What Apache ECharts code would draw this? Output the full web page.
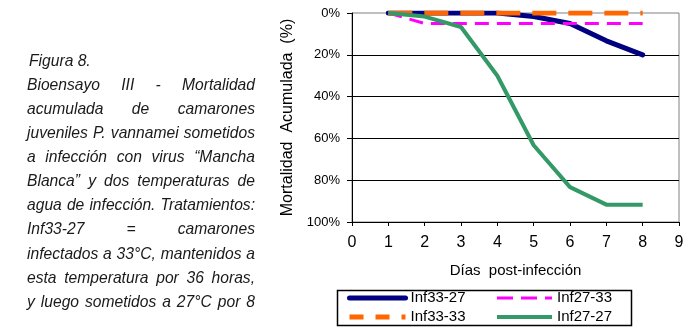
<!DOCTYPE html>
<html>
<head>
<meta charset="utf-8">
<script src="https://cdn.jsdelivr.net/npm/echarts@6/dist/echarts.min.js"></script>
<style>
  html, body { margin: 0; padding: 0; background: #fff; }
  #chart { width: 688px; height: 327px; }
</style>
</head>
<body>
<div id="chart"></div>
<script>
// Días post-infección
const days = [1, 2, 3, 4, 5, 6, 7, 8];
// Mortalidad acumulada (%) por tratamiento
const inf33_27 = [0, 0, 0, 0, 1.7, 5, 13.3, 20];
const inf27_33 = [0, 5, 5, 5, 5, 5, 5, 5];
const inf33_33 = [0, 0, 0, 0, 0, 0, 0, 0];
const inf27_27 = [0, 1.7, 6.7, 30, 63.3, 83.3, 91.7, 91.7];
const seriesNames = ['Inf33-27', 'Inf27-33', 'Inf33-33', 'Inf27-27'];
// Ejes
const xTicks = [0, 1, 2, 3, 4, 5, 6, 7, 8, 9];
const xTickLabels = ['0', '1', '2', '3', '4', '5', '6', '7', '8', '9'];
const yTicks = [0, 20, 40, 60, 80, 100];
const yTickLabels = ['0%', '20%', '40%', '60%', '80%', '100%'];
// Texto de la figura
const captionLines = [
  'Figura 8.',
  'Bioensayo III - Mortalidad',
  'acumulada de camarones',
  'juveniles P. vannamei sometidos',
  'a infección con virus “Mancha',
  'Blanca” y dos temperaturas de',
  'agua de infección. Tratamientos:',
  'Inf33-27 = camarones',
  'infectados a 33°C, mantenidos a',
  'esta temperatura por 36 horas,',
  'y luego sometidos a 27°C por 8'
];

const FONT = '"Liberation Sans", Arial, sans-serif';
const chart = echarts.init(document.getElementById('chart'), null, { renderer: 'canvas' });

// Justified caption: each word is a text element, gaps stretched to fill the column
const measureCtx = document.createElement('canvas').getContext('2d');
const capFontSize = 17;
const capFont = 'italic ' + capFontSize + 'px "Liberation Sans"';
measureCtx.font = capFont;
const colLeft = 27, colWidth = 228, lineTop = 61, lineStep = 24.1;
const captionEls = [];
captionLines.forEach((line, i) => {
  const words = line.split(' ');
  const widths = words.map(w => measureCtx.measureText(w).width);
  const sp = measureCtx.measureText(' ').width;
  const nat = widths.reduce((a, b) => a + b, 0);
  let s = 0.92;
  let gap = sp * s;
  const justify = i > 0 && words.length > 1;
  if (justify) {
    if ((nat + sp * (words.length - 1)) * s > colWidth) {
      s = colWidth / (nat + sp * (words.length - 1));
      gap = sp * s;
    } else {
      gap = (colWidth - nat * s) / (words.length - 1);
    }
  }
  let x = i === 0 ? colLeft + 2 : colLeft;
  const y = lineTop + i * lineStep;
  words.forEach((w, k) => {
    captionEls.push({
      type: 'text',
      x: x, y: y,
      scaleX: s,
      silent: true,
      style: {
        text: w,
        font: capFont,
        fill: '#1a1a1a',
        textAlign: 'left',
        textVerticalAlign: 'middle'
      }
    });
    x += widths[k] * s + gap;
  });
});

const pairs = arr => days.map((d, i) => [d, arr[i]]);

const legendCommon = {
  orient: 'vertical', top: 289, padding: 0,
  itemHeight: 14, itemGap: 1,
  itemStyle: { opacity: 0, borderWidth: 0 },
  textStyle: { fontSize: 15, lineHeight: 18, color: '#000', fontFamily: FONT }
};

const option = {
  animation: false,
  backgroundColor: '#fff',
  grid: {
    left: 352, right: 9, top: 13, bottom: 105,
    show: true, borderColor: '#808080', borderWidth: 1, backgroundColor: 'transparent'
  },
  xAxis: {
    type: 'value', min: xTicks[0], max: xTicks[xTicks.length - 1], interval: 1,
    axisLine: { onZero: false, lineStyle: { color: '#000', width: 1 } },
    axisTick: { show: true, length: 4, lineStyle: { color: '#000' } },
    axisLabel: {
      fontSize: 16, color: '#000', fontFamily: FONT, margin: 13,
      formatter: v => xTickLabels[xTicks.indexOf(v)]
    },
    splitLine: { show: false },
    name: 'Días  post-infección', nameLocation: 'middle', nameGap: 41,
    nameTextStyle: { fontSize: 15, color: '#000', fontFamily: FONT }
  },
  yAxis: {
    type: 'value', inverse: true, min: yTicks[0], max: yTicks[yTicks.length - 1], interval: 20,
    axisLine: { show: true, onZero: false, lineStyle: { color: '#000', width: 1 } },
    axisTick: { show: true, length: 5, lineStyle: { color: '#000' } },
    axisLabel: {
      fontSize: 13, color: '#000', fontFamily: FONT, margin: 12,
      formatter: v => yTickLabels[yTicks.indexOf(v)]
    },
    splitLine: { show: true, showMinLine: false, showMaxLine: false, lineStyle: { color: '#000', width: 1 } },
    name: 'Mortalidad  Acumulada  (%)', nameLocation: 'middle', nameGap: 56,
    nameTextStyle: { fontSize: 16, color: '#000', fontFamily: FONT }
  },
  legend: [
    Object.assign({
      data: [
        { name: seriesNames[0], lineStyle: { width: 5 } },
        { name: seriesNames[2], lineStyle: { width: 5, type: [14, 12] } }
      ],
      left: 347, itemWidth: 56
    }, legendCommon),
    Object.assign({
      data: [
        { name: seriesNames[1], lineStyle: { width: 3, type: [16, 8] } },
        { name: seriesNames[3], lineStyle: { width: 4 } }
      ],
      left: 495, itemWidth: 55
    }, legendCommon)
  ],
  graphic: [
    {
      type: 'rect', silent: true,
      shape: { x: 337.5, y: 290.5, width: 294, height: 35 },
      style: { fill: 'none', stroke: '#000', lineWidth: 1.5 }
    }
  ].concat(captionEls),
  series: [
    {
      name: seriesNames[0], type: 'line', data: pairs(inf33_27),
      symbol: 'none', showSymbol: false,
      lineStyle: { color: '#000080', width: 5, cap: 'round', join: 'round' },
      itemStyle: { color: '#000080' }
    },
    {
      name: seriesNames[1], type: 'line', data: pairs(inf27_33),
      symbol: 'none', showSymbol: false,
      lineStyle: { color: '#ff00ff', width: 3, type: [14, 8] },
      itemStyle: { color: '#ff00ff' }
    },
    {
      name: seriesNames[2], type: 'line', data: pairs(inf33_33),
      symbol: 'none', showSymbol: false,
      lineStyle: { color: '#ff6600', width: 5, type: [24, 12] },
      itemStyle: { color: '#ff6600' }
    },
    {
      name: seriesNames[3], type: 'line', data: pairs(inf27_27),
      symbol: 'none', showSymbol: false,
      lineStyle: { color: '#339966', width: 4, join: 'round' },
      itemStyle: { color: '#339966' }
    }
  ]
};
chart.setOption(option);
</script>
</body>
</html>
